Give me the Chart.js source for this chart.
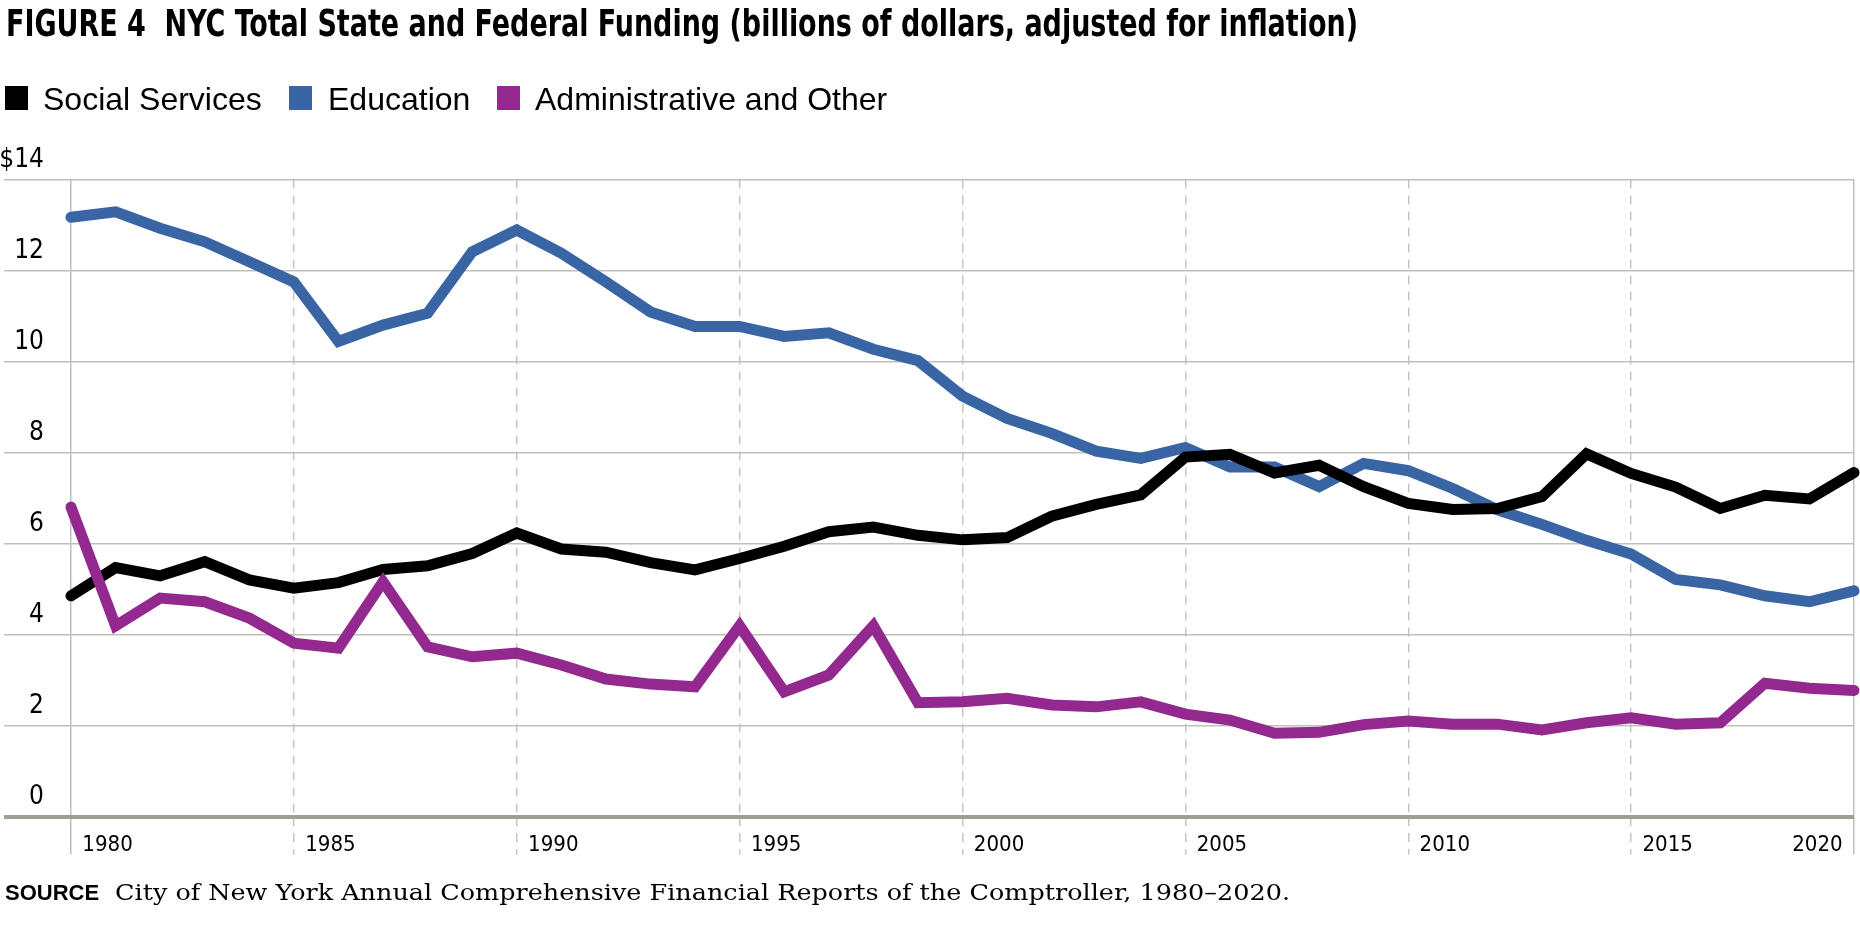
<!DOCTYPE html>
<html>
<head>
<meta charset="utf-8">
<script src="https://cdn.jsdelivr.net/npm/chart.js@4.4.1/dist/chart.umd.min.js"></script>
<style>
  html, body { margin: 0; padding: 0; background: #ffffff; }
  body { width: 1860px; height: 931px; position: relative; overflow: hidden; }
  #wrap { position: absolute; left: 0; top: 0; width: 1860px; height: 931px; }
  .txt { position: absolute; white-space: nowrap; color: #000; transform-origin: 0 0; }
  #title { left: 6px; top: 4px; font-weight: bold; font-size: 38px; line-height: 38px;
           font-family: "Liberation Sans Narrow", "Arial Narrow", "DejaVu Sans Condensed", sans-serif; }
  .sw { position: absolute; top: 86px; width: 23px; height: 24px; }
  .lg { position: absolute; top: 83px; font-size: 32px; line-height: 32px;
        font-family: "Liberation Sans", Arial, sans-serif; white-space: nowrap; }
  #srcLabel { left: 5px; top: 882px; font-weight: bold; font-size: 22px; line-height: 22px;
              font-family: "Liberation Sans", Arial, sans-serif; }
  #srcText { left: 115px; top: 881px; font-size: 23px; line-height: 23px;
             font-family: "DejaVu Serif", "Liberation Serif", serif; }
</style>
</head>
<body>
<div id="wrap"><canvas id="c" width="1860" height="931"></canvas></div>
<div id="title" class="txt"></div>
<div id="legend"></div>
<div id="srcLabel" class="txt">SOURCE</div>
<div id="srcText" class="txt"></div>
<script>
// ---------------- DATA ----------------
const titleText = "FIGURE 4\u00a0\u00a0NYC Total State and Federal Funding (billions of dollars, adjusted for inflation)";
const sourceText = "City of New York Annual Comprehensive Financial Reports of the Comptroller, 1980\u20132020.";

const years = [1980,1981,1982,1983,1984,1985,1986,1987,1988,1989,
               1990,1991,1992,1993,1994,1995,1996,1997,1998,1999,
               2000,2001,2002,2003,2004,2005,2006,2007,2008,2009,
               2010,2011,2012,2013,2014,2015,2016,2017,2018,2019,
               2020];

const seriesNames = ["Social Services", "Education", "Administrative and Other"];

const socialServices = [4.85,5.47,5.29,5.60,5.20,5.02,5.14,5.43,5.51,5.78,
                        6.23,5.88,5.81,5.58,5.42,5.67,5.94,6.26,6.36,6.18,
                        6.08,6.13,6.60,6.86,7.07,7.90,7.96,7.55,7.72,7.25,
                        6.88,6.75,6.77,7.03,7.97,7.54,7.24,6.77,7.06,6.98,
                        7.56];

const education = [13.17,13.29,12.93,12.63,12.19,11.75,10.44,10.80,11.06,12.41,
                   12.89,12.38,11.75,11.09,10.77,10.77,10.55,10.63,10.27,10.02,
                   9.24,8.75,8.42,8.03,7.87,8.11,7.68,7.68,7.25,7.76,
                   7.60,7.21,6.74,6.42,6.07,5.77,5.21,5.09,4.85,4.72,
                   4.96];

const adminOther = [6.80,4.19,4.80,4.72,4.36,3.81,3.70,5.16,3.73,3.51,
                    3.59,3.33,3.02,2.91,2.85,4.19,2.74,3.11,4.19,2.50,
                    2.52,2.60,2.45,2.41,2.52,2.25,2.12,1.83,1.85,2.02,
                    2.10,2.03,2.03,1.90,2.06,2.17,2.03,2.06,2.93,2.82,
                    2.77];

const xTickYears  = [1980,1985,1990,1995,2000,2005,2010,2015,2020];
const xTickLabels = ["1980","1985","1990","1995","2000","2005","2010","2015","2020"];
const yTickValues = [0,2,4,6,8,10,12,14];
const yTickLabels = ["0","2","4","6","8","10","12","$14"];

// ---------------- STYLE ----------------
const colors = ["#000000", "#3a65a5", "#93298f"];
const drawOrder = [1, 2, 0];   // purple on top, then black, blue underneath
const gridColor = "#c0c0ba";
const dashColor = "#c6c6c4";
const zeroColor = "#9f9e93";
const narrow = '"Liberation Sans Narrow", "Arial Narrow", "DejaVu Sans Condensed", sans-serif';
const labelShift = 0.82; // label placement beside its grid line, in years

// ---------------- TEXT / LEGEND ----------------
document.getElementById("title").textContent = titleText;
document.getElementById("srcText").textContent = sourceText;
const legendPos = [[5, 43], [289, 328], [497, 535]];
const legendEl = document.getElementById("legend");
seriesNames.forEach((n, i) => {
  const sw = document.createElement("div");
  sw.className = "sw"; sw.style.left = legendPos[i][0] + "px"; sw.style.background = colors[i];
  legendEl.appendChild(sw);
  const t = document.createElement("div");
  t.className = "lg"; t.style.left = legendPos[i][1] + "px"; t.textContent = n;
  legendEl.appendChild(t);
});
function fitWidth(id, target) {
  const el = document.getElementById(id);
  const w = el.getBoundingClientRect().width;
  if (w > 0) el.style.transform = "scaleX(" + (target / w) + ")";
}
fitWidth("title", 1352);
fitWidth("srcText", 1175);

// ---------------- CHART ----------------
const seriesValues = [socialServices, education, adminOther];
const datasets = seriesNames.map((name, i) => ({
  label: name,
  data: years.map((yr, k) => ({ x: yr, y: seriesValues[i][k] })),
  borderColor: colors[i],
  backgroundColor: colors[i],
  borderWidth: 11,
  pointRadius: 0,
  tension: 0,
  fill: false,
  borderCapStyle: "round",
  borderJoinStyle: "miter",
  clip: false,
  order: drawOrder[i]
}));

const lastIdx = xTickYears.length - 1;
function isEdge(v) { return v === xTickYears[0] || v === xTickYears[lastIdx]; }

new Chart(document.getElementById("c"), {
  type: "line",
  data: { datasets },
  options: {
    responsive: false,
    animation: false,
    devicePixelRatio: 1,
    layout: { padding: { top: 179.5, right: 6, bottom: 0, left: 0 } },
    plugins: { legend: { display: false }, tooltip: { enabled: false } },
    scales: {
      x: {
        type: "linear",
        min: xTickYears[0],
        max: xTickYears[lastIdx],
        afterBuildTicks: (axis) => {
          const t = [];
          xTickYears.forEach((yr, i) => {
            t.push({ value: yr, grid: true, lbl: "" });
            const lv = i === lastIdx ? yr - labelShift : yr + labelShift;
            t.push({ value: lv, grid: false, lbl: xTickLabels[i] });
          });
          t.sort((a, b) => a.value - b.value);
          axis.ticks = t;
        },
        afterFit: (axis) => { axis.height = 114.5; },
        grid: {
          drawOnChartArea: true,
          drawTicks: true,
          tickLength: 38,
          color: (c) => (c.tick && c.tick.grid) ? (isEdge(c.tick.value) ? gridColor : dashColor) : "rgba(0,0,0,0)",
          tickColor: (c) => (c.tick && c.tick.grid) ? (isEdge(c.tick.value) ? gridColor : dashColor) : "rgba(0,0,0,0)",
          lineWidth: 1.5,
          tickWidth: 1.5,
          tickBorderDash: (c) => (c.tick && c.tick.grid && !isEdge(c.tick.value)) ? [9, 7] : []
        },
        border: {
          display: false,
          dash: (c) => (c.tick && c.tick.grid && !isEdge(c.tick.value)) ? [9, 7] : []
        },
        ticks: {
          autoSkip: false,
          maxRotation: 0,
          minRotation: 0,
          padding: -22.2,
          color: "#000",
          font: { family: narrow, size: 22 },
          callback: (v, i, ticks) => ticks[i].lbl || ""
        }
      },
      y: {
        type: "linear",
        min: yTickValues[0],
        max: yTickValues[yTickValues.length - 1],
        afterBuildTicks: (axis) => { axis.ticks = yTickValues.map(v => ({ value: v })); },
        afterFit: (axis) => { axis.width = 71; },
        grid: {
          drawTicks: true,
          tickLength: 67,
          color: (c) => c.tick && c.tick.value === 0 ? zeroColor : gridColor,
          tickColor: (c) => c.tick && c.tick.value === 0 ? zeroColor : gridColor,
          lineWidth: (c) => c.tick && c.tick.value === 0 ? 4 : 1.5,
          tickWidth: (c) => c.tick && c.tick.value === 0 ? 4 : 1.5
        },
        border: { display: false },
        ticks: {
          padding: -40,
          labelOffset: -19,
          color: "#000",
          font: { family: narrow, size: 26 },
          callback: (v, i) => yTickLabels[i]
        }
      }
    }
  }
});
</script>
</body>
</html>
